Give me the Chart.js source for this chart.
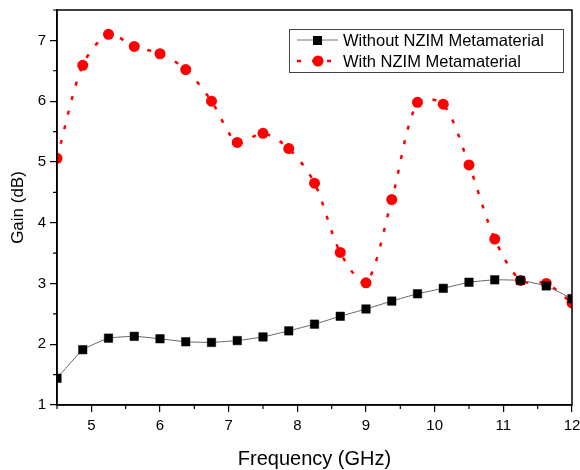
<!DOCTYPE html>
<html>
<head>
<meta charset="utf-8">
<script src="https://cdn.jsdelivr.net/npm/chart.js@4.4.1/dist/chart.umd.min.js"></script>
<style>
  html, body { margin: 0; padding: 0; background: #fff; }
  #wrap { width: 580px; height: 470px; }
</style>
</head>
<body>
<div id="wrap"><canvas id="gainChart" width="580" height="470"></canvas></div>
<script>
const freq = [4.5, 4.875, 5.25, 5.625, 6.0, 6.375, 6.75, 7.125, 7.5, 7.875, 8.25,
              8.625, 9.0, 9.375, 9.75, 10.125, 10.5, 10.875, 11.25, 11.625, 12.0];
const gainWithout = [1.44, 1.91, 2.10, 2.13, 2.09, 2.04, 2.03, 2.06, 2.12, 2.22, 2.33,
                     2.46, 2.58, 2.71, 2.83, 2.92, 3.02, 3.06, 3.05, 2.96, 2.75];
const gainWith = [5.06, 6.59, 7.10, 6.90, 6.78, 6.52, 6.00, 5.32, 5.47, 5.22, 4.65,
                  3.51, 3.01, 4.38, 5.98, 5.95, 4.95, 3.73, 3.05, 3.00, 2.68];
const xTicks = [5, 6, 7, 8, 9, 10, 11, 12];
const yTicks = [1, 2, 3, 4, 5, 6, 7];
const seriesNames = ['Without NZIM Metamaterial', 'With NZIM Metamaterial'];

const FONT = '"Liberation Sans", Arial, sans-serif';

const toPoints = (ys) => freq.map((f, i) => ({ x: f, y: ys[i] }));

// frame, minor ticks and the legend box inside the plot
const framePlugin = {
    id: 'frame',
    afterDraw(chart) {
        const ctx = chart.ctx;
        const a = chart.chartArea;
        const xs = chart.scales.x;
        const ys = chart.scales.y;
        ctx.save();
        ctx.strokeStyle = '#000';
        ctx.lineWidth = 1.5;
        ctx.strokeRect(a.left, a.top, a.right - a.left, a.bottom - a.top);

        // minor ticks
        ctx.lineWidth = 1.2;
        ctx.beginPath();
        for (let v = 4.5; v <= 12; v += 1) {
            const px = xs.getPixelForValue(v);
            ctx.moveTo(px, a.bottom);
            ctx.lineTo(px, a.bottom + 4);
        }
        for (let v = 1.5; v <= 7.5; v += 1) {
            const py = ys.getPixelForValue(v);
            ctx.moveTo(a.left, py);
            ctx.lineTo(a.left - 4, py);
        }
        ctx.stroke();

        // legend
        const bx = 289, by = 29, bw = 274, bh = 43;
        ctx.fillStyle = '#fff';
        ctx.fillRect(bx, by, bw, bh);
        ctx.strokeStyle = '#444';
        ctx.lineWidth = 1;
        ctx.strokeRect(bx + 0.5, by + 0.5, bw, bh);

        ctx.font = '16.5px ' + FONT;
        ctx.textBaseline = 'middle';
        ctx.fillStyle = '#000';

        // row 1
        let ly = 40;
        ctx.strokeStyle = '#777';
        ctx.lineWidth = 1;
        ctx.beginPath();
        ctx.moveTo(297, ly); ctx.lineTo(338, ly);
        ctx.stroke();
        ctx.fillStyle = '#000';
        ctx.fillRect(313, ly - 4, 9, 9);
        ctx.fillText(seriesNames[0], 343, ly + 1);

        // row 2
        ly = 61;
        ctx.strokeStyle = '#ff0000';
        ctx.lineWidth = 2.5;
        ctx.setLineDash([4, 11]);
        ctx.beginPath();
        ctx.moveTo(297, ly); ctx.lineTo(338, ly);
        ctx.stroke();
        ctx.setLineDash([]);
        ctx.fillStyle = '#ff0000';
        ctx.beginPath();
        ctx.arc(318, ly, 5.5, 0, Math.PI * 2);
        ctx.fill();
        ctx.fillStyle = '#000';
        ctx.fillText(seriesNames[1], 343, ly + 1);
        ctx.restore();
    }
};

new Chart(document.getElementById('gainChart'), {
    type: 'line',
    data: {
        datasets: [{
            label: seriesNames[0],
            data: toPoints(gainWithout),
            borderColor: '#666',
            borderWidth: 1,
            backgroundColor: '#000',
            pointStyle: 'rect',
            pointRadius: 6,
            pointBorderColor: '#000',
            pointBorderWidth: 0.5,
            tension: 0.12
        }, {
            label: seriesNames[1],
            data: toPoints(gainWith),
            borderColor: '#ff0000',
            borderWidth: 2.5,
            borderDash: [4, 11],
            backgroundColor: '#ff0000',
            pointStyle: 'circle',
            pointRadius: 5.5,
            pointBorderWidth: 0,
            tension: 0.3
        }]
    },
    options: {
        responsive: false,
        animation: false,
        layout: { padding: { top: 10, right: 8, left: 3, bottom: 0 } },
        plugins: {
            legend: { display: false },
            tooltip: { enabled: false }
        },
        scales: {
            x: {
                type: 'linear',
                min: 4.5,
                max: 12,
                afterBuildTicks: (s) => { s.ticks = xTicks.map(v => ({ value: v })); },
                afterFit: (s) => { s.height = 65; s.paddingLeft = 0; s.paddingRight = 0; },
                border: { display: true, color: '#000', width: 1.5 },
                grid: { drawOnChartArea: false, color: '#000', lineWidth: 1.2, tickLength: 7 },
                ticks: { color: '#000', font: { family: FONT, size: 15 }, padding: 5 },
                title: {
                    display: true,
                    text: 'Frequency (GHz)',
                    color: '#000',
                    font: { family: FONT, size: 20 },
                    padding: { top: 10, bottom: -1 }
                }
            },
            y: {
                min: 1,
                max: 7.5,
                afterBuildTicks: (s) => { s.ticks = yTicks.map(v => ({ value: v })); },
                afterFit: (s) => { s.width = 54; s.paddingTop = 0; s.paddingBottom = 0; },
                border: { display: true, color: '#000', width: 1.5 },
                grid: { drawOnChartArea: false, color: '#000', lineWidth: 1.2, tickLength: 7 },
                ticks: { color: '#000', font: { family: FONT, size: 15 }, padding: 4 },
                title: {
                    display: true,
                    text: 'Gain (dB)',
                    color: '#000',
                    font: { family: FONT, size: 17 },
                    padding: { top: 5, bottom: 4 }
                }
            }
        }
    },
    plugins: [framePlugin]
});
</script>
</body>
</html>
